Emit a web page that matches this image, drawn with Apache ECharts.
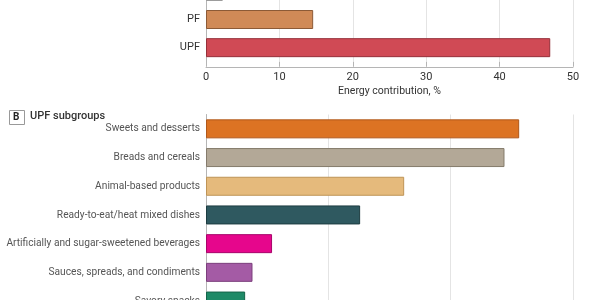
<!DOCTYPE html>
<html>
<head>
<meta charset="utf-8">
<script src="https://cdn.jsdelivr.net/npm/echarts@6/dist/echarts.min.js"></script>
<style>
  html, body { margin: 0; padding: 0; background: #fff; }
  #chart { width: 600px; height: 300px; }
</style>
</head>
<body>
<div id="chart"></div>
<script>
// panel A: processing groups (top bar is cut off by the crop)
const groupNames = ['PCI', 'PF', 'UPF'];
const groupValues = [2.3, 14.6, 46.9];
const groupColors = ['#f4f1ea', '#d08a57', '#d04a55'];
const groupBorders = ['#8a8a8a', '#8c5a36', '#963039'];
const groupTicks = [0, 10, 20, 30, 40, 50];

// panel B: UPF subgroups
const subNames = [
  'Sweets and desserts',
  'Breads and cereals',
  'Animal-based products',
  'Ready-to-eat/heat mixed dishes',
  'Artificially and sugar-sweetened beverages',
  'Sauces, spreads, and condiments',
  'Savory snacks'
];
const subValues = [12.8, 12.2, 8.1, 6.3, 2.7, 1.9, 1.6];
const subColors = ['#dc7323', '#b3a897', '#e5ba7c', '#2f5960', '#e6068c', '#a45ba5', '#1e8a67'];
const subBorders = ['#b0581a', '#857b6c', '#bf9456', '#1d3c41', '#a8046a', '#7b3f7c', '#146449'];

const FONT = 'Roboto, "Liberation Sans", sans-serif';

class Chart {
  constructor() {
    this.init();
  }

  init() {
    let myChart = echarts.init(document.getElementById('chart'), null, { renderer: 'canvas' });
    myChart.setOption(this.buildOptions());
  }

  styled(values, colors, borders) {
    return values.map((v, i) => ({
      value: v,
      itemStyle: { color: colors[i], borderColor: borders[i], borderWidth: 1 }
    }));
  }

  buildOptions() {
    return {
      animation: false,
      textStyle: { fontFamily: FONT },
      grid: [
        { left: 206, right: 27, top: -22.75, bottom: 300 - 61.75, outerBoundsMode: 'none', containLabel: false },
        { left: 206, right: 27, top: 114.5, bottom: -15.4, outerBoundsMode: 'none', containLabel: false }
      ],
      xAxis: [{
        gridIndex: 0,
        type: 'value',
        min: 0,
        max: 50,
        interval: 10,
        offset: 5,
        name: 'Energy contribution, %',
        nameLocation: 'middle',
        nameGap: 19,
        nameTextStyle: { color: '#333', fontSize: 10.5, fontFamily: FONT },
        axisLine: { show: true, lineStyle: { color: '#b5b5b5' } },
        axisTick: { show: true, inside: true, length: 5, lineStyle: { color: '#b5b5b5' } },
        axisLabel: {
          color: '#333', fontSize: 11, margin: 5, fontFamily: FONT,
          formatter: (v) => groupTicks.indexOf(v) >= 0 ? String(v) : ''
        },
        splitLine: { show: true, lineStyle: { color: '#e4e4e4' } }
      }, {
        gridIndex: 1,
        type: 'value',
        min: 0,
        max: 15,
        interval: 5,
        axisLine: { show: false },
        axisTick: { show: false },
        axisLabel: { show: false },
        splitLine: { show: true, lineStyle: { color: '#e4e4e4' } }
      }],
      yAxis: [{
        gridIndex: 0,
        type: 'category',
        inverse: true,
        data: groupNames,
        axisLine: { show: true, lineStyle: { color: '#b5b5b5' } },
        axisTick: { show: false },
        axisLabel: { color: '#333', fontSize: 11, margin: 6, fontFamily: FONT }
      }, {
        gridIndex: 1,
        type: 'category',
        inverse: true,
        data: subNames,
        axisLine: { show: true, lineStyle: { color: '#b5b5b5' } },
        axisTick: { show: false },
        axisLabel: { color: '#555', fontSize: 10.2, margin: 6, fontFamily: FONT }
      }],
      series: [{
        type: 'bar',
        xAxisIndex: 0,
        yAxisIndex: 0,
        barWidth: 19,
        data: this.styled(groupValues, groupColors, groupBorders)
      }, {
        type: 'bar',
        xAxisIndex: 1,
        yAxisIndex: 1,
        barWidth: 19,
        data: this.styled(subValues, subColors, subBorders)
      }],
      graphic: [{
        type: 'rect',
        left: 9,
        top: 110,
        shape: { width: 15, height: 14 },
        style: { fill: '#fff', stroke: '#999', lineWidth: 1 }
      }, {
        type: 'text',
        left: 13,
        top: 112,
        style: { text: 'B', font: 'bold 10px ' + FONT, fill: '#222' }
      }, {
        type: 'text',
        left: 30,
        top: 111,
        style: { text: 'UPF subgroups', font: '500 11px ' + FONT, fill: '#333' }
      }]
    };
  }
}

new Chart();
</script>
</body>
</html>
